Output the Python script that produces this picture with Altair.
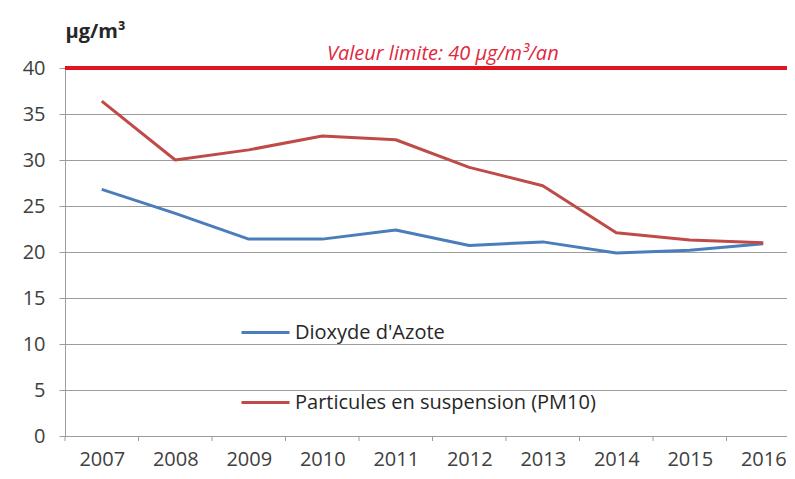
import altair as alt
import pandas as pd

years = [2007, 2008, 2009, 2010, 2011, 2012, 2013, 2014, 2015, 2016]
no2 = [26.8, 24.2, 21.4, 21.4, 22.4, 20.7, 21.1, 19.9, 20.2, 20.9]
pm10 = [36.4, 30.0, 31.1, 32.6, 32.2, 29.2, 27.2, 22.1, 21.3, 21.0]
series_names = ["Dioxyde d'Azote", "Particules en suspension (PM10)"]
series_colors = ["#4a7ebb", "#be4b48"]
y_ticks = [0, 5, 10, 15, 20, 25, 30, 35, 40]
limit_value = [40]
limit_label = ["Valeur limite: 40 µg/m³/an"]
limit_label_x = [2011.64]
y_unit = "µg/m³"

df = pd.DataFrame({
    "year": years * 2,
    "value": no2 + pm10,
    "series": [series_names[0]] * len(years) + [series_names[1]] * len(years),
})

FONT = "Open Sans"
GRID = "#9c9c9c"
LABEL = "#404040"
W, H = 722, 368

x_scale = alt.Scale(domain=[2006.5, 2016.323], nice=False, zero=False)
y_scale = alt.Scale(domain=[0, 40], nice=False, zero=True)

x_axis = alt.Axis(
    values=years, format="d", title=None, grid=False, tickSize=0,
    labelPadding=13, labelFontSize=20, labelFont=FONT, labelColor=LABEL,
    domainColor=GRID, labelFlush=False)
y_axis = alt.Axis(
    values=y_ticks, title=y_unit, titleAngle=0, titleAlign="left",
    titleBaseline="alphabetic", titleX=0, titleY=-31, titleFont=FONT,
    titleFontSize=20, titleFontWeight="bold", titleColor="#262626",
    tickSize=6, tickColor=GRID, labelPadding=14, labelFont=FONT,
    labelFontSize=20, labelColor=LABEL, domainColor=GRID,
    grid=True, gridColor=GRID, gridWidth=1)

lines = alt.Chart(df).mark_line(strokeWidth=3, strokeJoin="round").encode(
    x=alt.X("year:Q", scale=x_scale, axis=x_axis),
    y=alt.Y("value:Q", scale=y_scale, axis=y_axis),
    color=alt.Color("series:N", scale=alt.Scale(domain=series_names, range=series_colors),
                    legend=alt.Legend(title=None, orient="none", legendX=175, legendY=239,
                                      symbolType="stroke", symbolSize=2304, symbolStrokeWidth=3,
                                      labelFont=FONT, labelFontSize=20, labelColor="#262626",
                                      rowPadding=34, labelOffset=4, padding=0, labelLimit=0,
                                      direction="vertical")),
)

limit = alt.Chart(pd.DataFrame({"limit": limit_value})).mark_rule(
    color="#e0141e", strokeWidth=4).encode(
    y=alt.Y("limit:Q", scale=y_scale, axis=y_axis))

limit_text = alt.Chart(pd.DataFrame({"x": limit_label_x, "y": limit_value, "label": limit_label})).mark_text(
    font=FONT, fontSize=20, fontStyle="italic", color="#e0283e", align="center",
    baseline="alphabetic", dy=-8).encode(
    x=alt.X("x:Q", scale=x_scale, axis=x_axis),
    y=alt.Y("y:Q", scale=y_scale, axis=y_axis),
    text="label:N")

ticks = alt.Chart(pd.DataFrame({"year": years})).transform_calculate(
    b="datum.year - 0.5").mark_rule(color=GRID, strokeWidth=1).encode(
    x=alt.X("b:Q", scale=x_scale, axis=x_axis),
    y=alt.value(H), y2=alt.value(H + 5))

chart = alt.layer(ticks, lines, limit, limit_text).properties(
    width=W, height=H,
    autosize=alt.AutoSizeParams(type="none"),
    padding={"left": 57, "top": 60, "right": 0, "bottom": 35},
).configure_view(stroke=None)

chart.save("out.html", embed_options={"renderer": "svg", "actions": False})
